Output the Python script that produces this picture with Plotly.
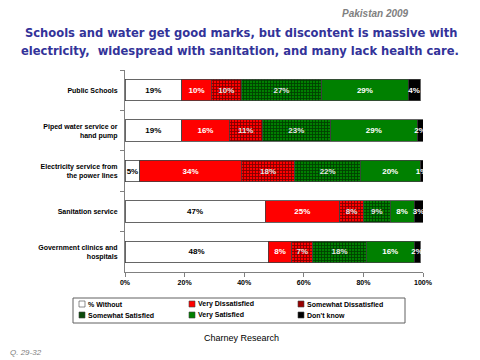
import plotly.graph_objects as go

categories = ["Public Schools", "Piped water service or<br>hand pump",
              "Electricity service from<br>the power lines", "Sanitation service",
              "Government clinics and<br>hospitals"]
series_names = ["% Without", "Very Dissatisfied", "Somewhat Dissatisfied",
                "Somewhat Satisfied", "Very Satisfied", "Don't know"]
without = [19, 19, 5, 47, 48]
very_dis = [10, 16, 34, 25, 8]
some_dis = [10, 11, 18, 8, 7]
some_sat = [27, 23, 22, 9, 18]
very_sat = [29, 29, 20, 8, 16]
dont_know = [4, 2, 1, 3, 2]
values = [without, very_dis, some_dis, some_sat, very_sat, dont_know]
tick_vals = [0, 20, 40, 60, 80, 100]
tick_text = ["0%", "20%", "40%", "60%", "80%", "100%"]

colors = ["#FFFFFF", "#FF0000", "#FF0000", "#008000", "#008000", "#000000"]
legend_colors = ["#FFFFFF", "#FF0000", "#990000", "#0A4A0A", "#008000", "#000000"]
text_colors = ["#000000", "#FFFFFF", "#E6E6E6", "#E6E6E6", "#FFFFFF", "#FFFFFF"]
patterns = [None, None, dict(shape="+", fgcolor="#000000", size=3, solidity=0.5),
            dict(shape="+", fgcolor="#000000", size=3, solidity=0.5), None, None]

fig = go.Figure()
for name, vals, c, tc, pat in zip(series_names, values, colors, text_colors, patterns):
    marker = dict(color=c, line=dict(color="#404040", width=0.8))
    if pat:
        marker["pattern"] = pat
    fig.add_trace(go.Bar(
        y=categories, x=vals, name=name, orientation="h",
        marker=marker,
        text=[f"{v}%" for v in vals], textposition="inside",
        insidetextanchor="middle", textangle=0,
        textfont=dict(family="Liberation Sans", size=8, color=tc, weight="bold"),
        hoverinfo="skip",
    ))

# the page adds an 8px body margin, so the figure is drawn 8px smaller and shifted
OFF = 8
W, H = 480 - OFF, 360 - OFF
L, R, T, B = 125 - OFF, 423 - OFF, 70 - OFF, 272 - OFF


def px(x):
    return (x - OFF - L) / (R - L)


def py(y):
    return (B - (y - OFF)) / (B - T)


fig.update_layout(
    width=W, height=H, barmode="stack", bargap=0.47,
    paper_bgcolor="white", plot_bgcolor="white",
    margin=dict(l=L, r=W - R, t=T, b=H - B, autoexpand=False),
    uniformtext=dict(minsize=8, mode="show"),
    font=dict(family="Liberation Sans", size=8, color="#000000"),
    showlegend=False,
    xaxis=dict(range=[0, 100], tickmode="array", tickvals=tick_vals, ticktext=tick_text,
               ticks="outside", ticklen=4, tickcolor="#808080", showline=True,
               linecolor="#808080", showgrid=False, zeroline=False,
               tickfont=dict(size=7, family="Liberation Sans", weight="bold")),
    yaxis=dict(autorange="reversed", showline=True, linecolor="#808080",
               ticks="outside", tickson="boundaries", ticklen=4, tickcolor="#808080",
               showgrid=False, ticklabelstandoff=5,
               tickfont=dict(size=7, family="Liberation Sans", weight="bold")),
)

# legend box and entries
fig.add_shape(type="rect", xref="paper", yref="paper", x0=px(73), x1=px(405),
              y0=py(298), y1=py(323), line=dict(color="#606060", width=1),
              fillcolor="white")
col_x = [82, 192, 301]
row_y = [304, 315]
for i, (name, lc) in enumerate(zip(series_names, legend_colors)):
    cx = col_x[i % 3]
    cy = row_y[i // 3]
    fig.add_shape(type="rect", xref="paper", yref="paper",
                  x0=px(cx - 3), x1=px(cx + 3), y0=py(cy + 3), y1=py(cy - 3),
                  line=dict(color="#404040", width=0.6), fillcolor=lc)
    fig.add_annotation(text=name, x=px(cx + 4), y=py(cy), xref="paper", yref="paper",
                       xanchor="left", yanchor="middle", showarrow=False,
                       font=dict(size=7, family="Liberation Sans", weight="bold"))

title_font = dict(size=12.8, color="#333399", family="DejaVu Sans Condensed", weight="bold")
annots = [
    dict(text="Pakistan 2009", x=px(375), y=py(14), xanchor="center", yanchor="middle",
         font=dict(size=10, color="#808080", family="Liberation Sans", weight="bold", style="italic")),
    dict(text="Schools and water get good marks, but discontent is massive with",
         x=px(241), y=py(32), xanchor="center", yanchor="middle", font=title_font),
    dict(text="electricity,  widespread with sanitation, and many lack health care.",
         x=px(240), y=py(51), xanchor="center", yanchor="middle", font=title_font),
    dict(text="Charney Research", x=px(241), y=py(338), xanchor="center", yanchor="middle",
         font=dict(size=9, color="#000000", family="Liberation Sans")),
    dict(text="Q. 29-32", x=px(8), y=py(352), xanchor="left", yanchor="middle",
         font=dict(size=8, color="#808080", family="Liberation Sans", style="italic")),
]
for a in annots:
    fig.add_annotation(xref="paper", yref="paper", showarrow=False, **a)

fig.write_html("out.html")
